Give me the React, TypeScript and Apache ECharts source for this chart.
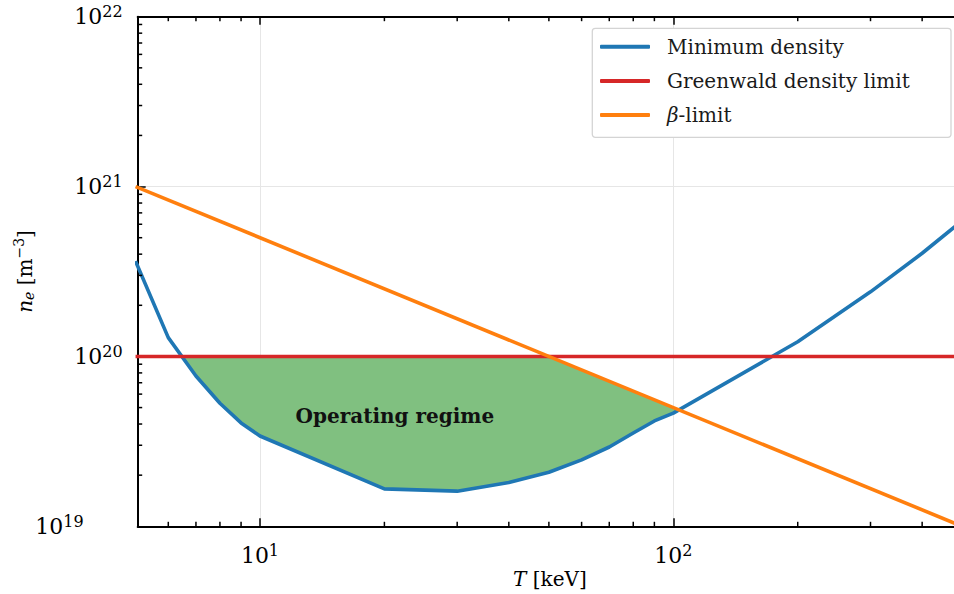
import React, { useEffect, useRef } from "react";
import * as echarts from "echarts";

// ---- data ----
const temperatures = [5, 6, 7, 8, 9, 10, 20, 30, 40, 50, 60, 70, 80, 90, 100, 200, 300, 400, 500];
const minDensity = [
  3.64e20, 1.29e20, 7.67e19, 5.3e19, 4.06e19, 3.4e19, 1.66e19, 1.61e19, 1.81e19, 2.08e19,
  2.46e19, 2.93e19, 3.54e19, 4.17e19, 4.64e19, 1.22e20, 2.4e20, 4.05e20, 6.3e20,
];
const greenwaldT = [5, 500];
const greenwaldDensity = [1e20, 1e20];
const betaT = [5, 500];
const betaDensity = [1e21, 1e19];

const regimeT = [6.5, 7, 8, 9, 10, 20, 30, 40, 50, 60, 70, 80, 90, 100, 105];
const regimeLower = [
  1e20, 7.67e19, 5.3e19, 4.06e19, 3.4e19, 1.66e19, 1.61e19, 1.81e19, 2.08e19, 2.46e19,
  2.93e19, 3.54e19, 4.17e19, 4.64e19, 4.75e19,
];
const regimeUpper = [
  1e20, 1e20, 1e20, 1e20, 1e20, 1e20, 1e20, 1e20, 1e20, 8.33e19, 7.14e19, 6.25e19, 5.56e19,
  5e19, 4.75e19,
];
const regimeLabelPos = [21.2, 4.45e19];

const xMinorTicks = [6, 7, 8, 9, 20, 30, 40, 50, 60, 70, 80, 90, 200, 300, 400];
const yMinorTicks = [
  2e19, 3e19, 4e19, 5e19, 6e19, 7e19, 8e19, 9e19,
  2e20, 3e20, 4e20, 5e20, 6e20, 7e20, 8e20, 9e20,
  2e21, 3e21, 4e21, 5e21, 6e21, 7e21, 8e21, 9e21,
];

const X_MIN = 5.06;
const X_MAX = 500;
const Y_MIN = 1e19;
const Y_MAX = 1e22;

const FONT = '"DejaVu Serif", serif';

function powLabel(v: number, isY: boolean) {
  const e = Math.round(Math.log10(v));
  if (Math.abs(Math.log10(v) - e) > 1e-6) return "";
  const supStyle = isY && e === 19 ? "s19" : "s";
  return `{b|10}{${supStyle}|${e}}`;
}

const labelRich = {
  b: { fontFamily: FONT, fontSize: 22, color: "#000" },
  s: { fontFamily: FONT, fontSize: 16, color: "#000", padding: [0, 0, 10, 0] },
  s19: { fontFamily: FONT, fontSize: 16, color: "#000", padding: [0, 39, 10, 0] },
};

export default function App() {
  const ref = useRef<HTMLDivElement>(null);

  useEffect(() => {
    if (!ref.current) return;
    const chart = echarts.init(ref.current, undefined, { renderer: "svg" });

    const MINOR = 4.5;

    const option: any = {
      animation: false,
      backgroundColor: "#fff",
      grid: {
        left: 137.7,
        top: 16.7,
        bottom: 594 - 526.3,
        right: 954 - 962.2,
        containLabel: false,
        outerBoundsMode: "none",
      },
      xAxis: [
        {
          type: "log",
          logBase: 10,
          min: X_MIN,
          max: X_MAX,
          position: "bottom",
          name: "{i|T} [keV]",
          nameLocation: "middle",
          nameGap: 43,
          nameMoveOverlap: false,
          nameTextStyle: {
            fontFamily: FONT,
            fontSize: 20,
            color: "#000",
            rich: { i: { fontFamily: FONT, fontSize: 20, fontStyle: "italic", color: "#000" } },
          },
          axisLine: { show: true, onZero: false, lineStyle: { color: "#000", width: 2 } },
          axisTick: { show: true, inside: true, length: 8, lineStyle: { color: "#000", width: 1.5 } },
          axisLabel: {
            margin: 16,
            formatter: (v: number) => powLabel(v, false),
            rich: labelRich,
          },
          splitLine: { show: true, lineStyle: { color: "#e6e6e6", width: 1 } },
          minorTick: { show: false },
        },
        {
          type: "log",
          logBase: 10,
          min: X_MIN,
          max: X_MAX,
          position: "top",
          axisLine: { show: true, onZero: false, lineStyle: { color: "#000", width: 2 } },
          axisTick: { show: true, inside: true, length: 8, lineStyle: { color: "#000", width: 1.5 } },
          axisLabel: { show: false },
          splitLine: { show: false },
        },
      ],
      yAxis: [
        {
          type: "log",
          logBase: 10,
          min: Y_MIN,
          max: Y_MAX,
          name: "{i|n}{sub|e} [m{sup|−3}]",
          nameLocation: "middle",
          nameRotate: 90,
          nameGap: 100,
          nameMoveOverlap: false,
          nameTextStyle: {
            fontFamily: FONT,
            fontSize: 20,
            color: "#000",
            rich: {
              i: { fontFamily: FONT, fontSize: 20, fontStyle: "italic", color: "#000" },
              sub: { fontFamily: FONT, fontSize: 14, fontStyle: "italic", color: "#000", padding: [8, 0, 0, 0] },
              sup: { fontFamily: FONT, fontSize: 14, color: "#000", padding: [0, 0, 12, 0] },
            },
          },
          axisLine: { show: true, onZero: false, lineStyle: { color: "#000", width: 2 } },
          axisTick: { show: true, inside: true, length: 8, lineStyle: { color: "#000", width: 1.5 } },
          axisLabel: {
            margin: 15,
            formatter: (v: number) => powLabel(v, true),
            rich: labelRich,
          },
          splitLine: { show: true, lineStyle: { color: "#e6e6e6", width: 1 } },
        },
      ],
      legend: {
        orient: "vertical",
        left: 600,
        top: 35.7,
        padding: 0,
        icon: "roundRect",
        itemWidth: 50,
        itemHeight: 4,
        itemGap: 12.2,
        data: ["Minimum density", "Greenwald density limit", "β-limit"],
        formatter: (name: string) => (name === "β-limit" ? "{i|β}-limit" : name),
        textStyle: {
          fontFamily: FONT,
          fontSize: 20,
          color: "#1a1a1a",
          lineHeight: 22,
          padding: [0, 0, 0, 12],
          rich: { i: { fontFamily: FONT, fontSize: 20, fontStyle: "italic", color: "#1a1a1a" } },
        },
      },
      graphic: [
        {
          type: "rect",
          z: 3,
          shape: { x: 592.3, y: 28.3, width: 358.7, height: 109, r: 3 },
          style: { fill: "#fff", stroke: "#d4d4d4", lineWidth: 1.3 },
        },
      ],
      series: [
        {
          name: "regime",
          type: "custom",
          z: 1,
          silent: true,
          data: [[regimeT[0], regimeLower[0]]],
          renderItem: (params: any, api: any) => {
            const pts: number[][] = [];
            for (let i = 0; i < regimeT.length; i++) pts.push(api.coord([regimeT[i], regimeLower[i]]));
            for (let i = regimeT.length - 1; i >= 0; i--) pts.push(api.coord([regimeT[i], regimeUpper[i]]));
            const c = api.coord(regimeLabelPos);
            return {
              type: "group",
              children: [
                { type: "polygon", shape: { points: pts }, style: { fill: "#80c080" } },
                {
                  type: "text",
                  x: c[0],
                  y: c[1],
                  style: {
                    text: "Operating regime",
                    fill: "#111",
                    fontFamily: FONT,
                    fontWeight: "bold",
                    fontSize: 20,
                    align: "center",
                    verticalAlign: "middle",
                  },
                },
              ],
            };
          },
        },
        {
          name: "Minimum density",
          type: "line",
          z: 2,
          symbol: "none",
          data: temperatures.map((t, i) => [t, minDensity[i]]),
          lineStyle: { color: "#1f77b4", width: 3.6 },
          itemStyle: { color: "#1f77b4" },
        },
        {
          name: "Greenwald density limit",
          type: "line",
          z: 2,
          symbol: "none",
          data: greenwaldT.map((t, i) => [t, greenwaldDensity[i]]),
          lineStyle: { color: "#d62728", width: 3.6 },
          itemStyle: { color: "#d62728" },
        },
        {
          name: "β-limit",
          type: "line",
          z: 2,
          symbol: "none",
          data: betaT.map((t, i) => [t, betaDensity[i]]),
          lineStyle: { color: "#ff7f0e", width: 3.6 },
          itemStyle: { color: "#ff7f0e" },
        },
        {
          name: "xMinor",
          type: "custom",
          z: 5,
          silent: true,
          clip: false,
          data: xMinorTicks.map((v) => [v, Y_MIN]),
          renderItem: (params: any, api: any) => {
            const v = api.value(0);
            const b = api.coord([v, Y_MIN]);
            const t = api.coord([v, Y_MAX]);
            const st = { stroke: "#000", lineWidth: 1.5 };
            return {
              type: "group",
              children: [
                { type: "line", shape: { x1: b[0], y1: b[1], x2: b[0], y2: b[1] - MINOR }, style: st },
                { type: "line", shape: { x1: t[0], y1: t[1], x2: t[0], y2: t[1] + MINOR }, style: st },
              ],
            };
          },
        },
        {
          name: "yMinor",
          type: "custom",
          z: 5,
          silent: true,
          clip: false,
          data: yMinorTicks.map((v) => [X_MIN, v]),
          renderItem: (params: any, api: any) => {
            const v = api.value(1);
            const l = api.coord([X_MIN, v]);
            const r = api.coord([X_MAX, v]);
            const st = { stroke: "#000", lineWidth: 1.5 };
            return {
              type: "group",
              children: [
                { type: "line", shape: { x1: l[0], y1: l[1], x2: l[0] + MINOR, y2: l[1] }, style: st },
                { type: "line", shape: { x1: r[0], y1: r[1], x2: r[0] - MINOR, y2: r[1] }, style: st },
              ],
            };
          },
        },
      ],
    };

    chart.setOption(option);
    return () => chart.dispose();
  }, []);

  return (
    <div
      ref={ref}
      style={{ position: "fixed", left: 0, top: 0, width: 954, height: 594, background: "#fff" }}
    />
  );
}
